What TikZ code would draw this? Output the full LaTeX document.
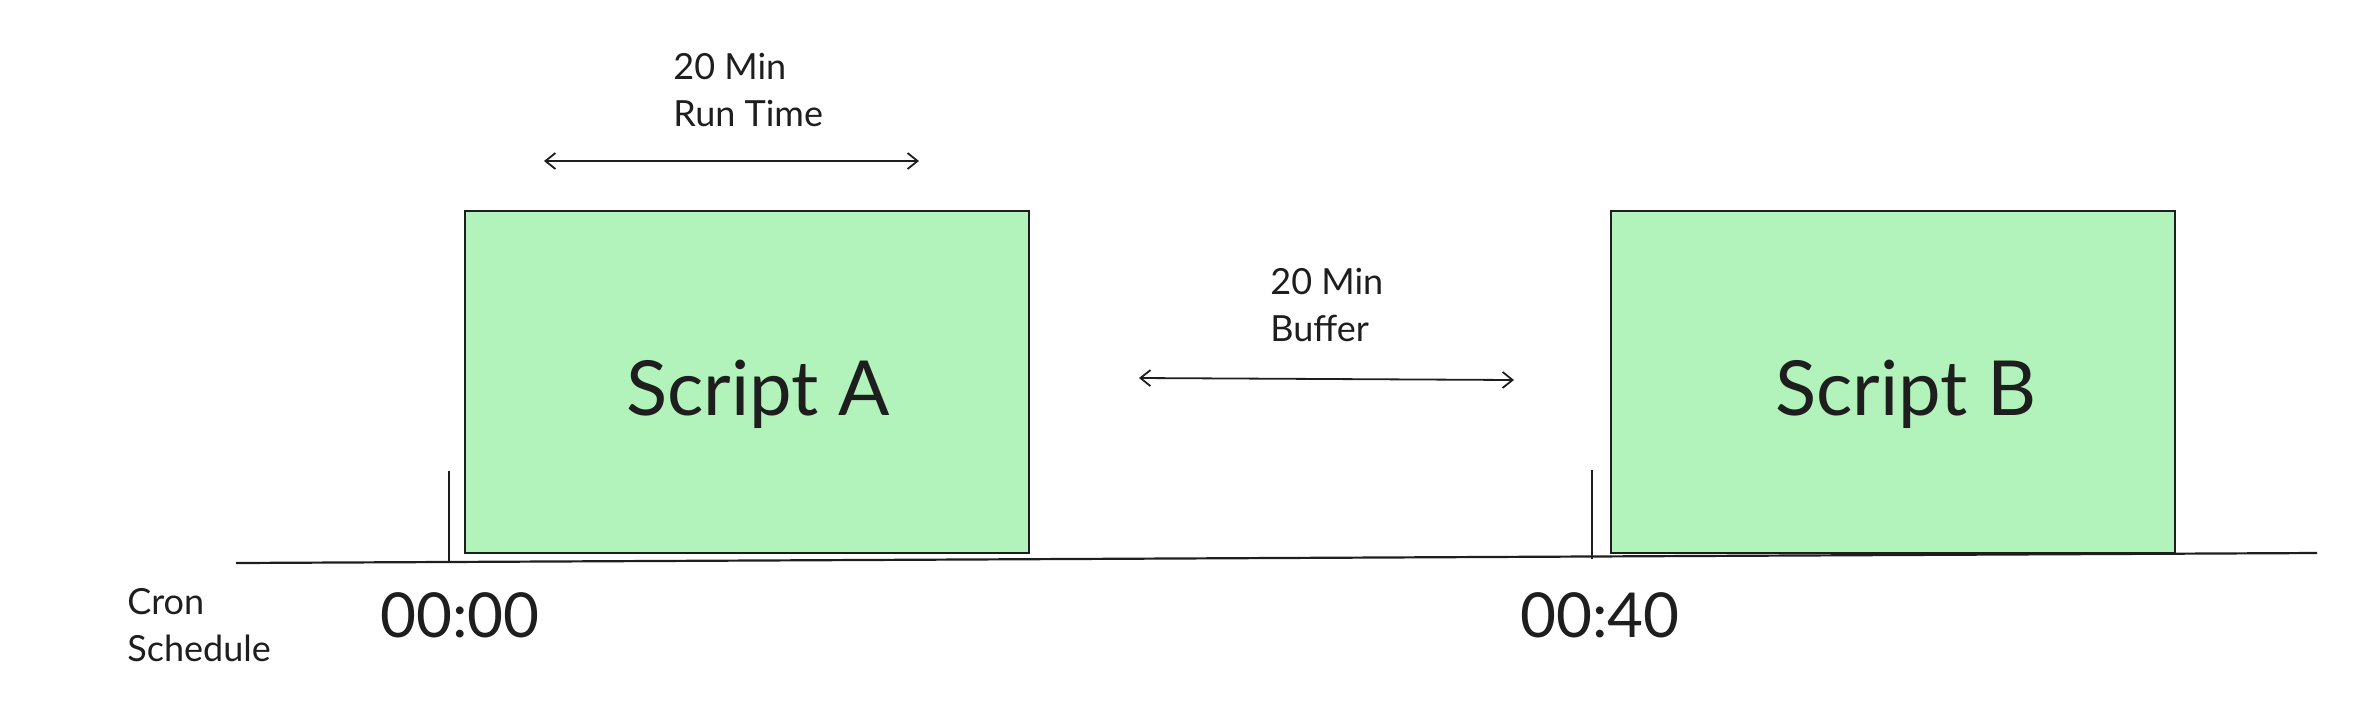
\documentclass[tikz,border=0pt]{standalone}
\usepackage{fontspec}
\setmainfont{Lato}
\usetikzlibrary{arrows.meta}
\definecolor{boxgreen}{RGB}{178,242,187}
\definecolor{ink}{RGB}{30,30,30}
\tikzset{
  scriptbox/.style={draw=ink, line width=1.2pt, fill=boxgreen, inner sep=0pt,
    minimum width=282pt, minimum height=171pt},
  boxtext/.style={text=ink, inner sep=0pt, font=\fontsize{38}{44}\selectfont},
  note/.style={text=ink, align=left, anchor=west, inner sep=0pt, font=\fontsize{18}{23.5}\selectfont},
  stamp/.style={text=ink, inner sep=0pt, font=\fontsize{31}{36}\selectfont},
  span/.style={draw=ink, line width=0.9pt, {Straight Barb[length=5pt,width=8pt]}-{Straight Barb[length=5pt,width=8pt]}},
  axis/.style={draw=ink, line width=1.1pt},
  tick/.style={draw=ink, line width=0.8pt}
}
\begin{document}
\begin{tikzpicture}[x=0.5pt,y=0.5pt,yscale=-1]
  \useasboundingbox (0,0) rectangle (2362,714);
  % time axis
  \coordinate (axL) at (236,563);
  \coordinate (axR) at (2317,553);
  \draw[axis] (axL) -- (axR);
  % cron ticks
  \coordinate (tkAtop) at (449,471);
  \coordinate (tkAbot) at (449,562);
  \coordinate (tkBtop) at (1592,470);
  \coordinate (tkBbot) at (1592,559);
  \draw[tick] (tkAtop) -- (tkAbot);
  \draw[tick] (tkBtop) -- (tkBbot);
  % scripts
  \node[scriptbox] (boxA) at (747,382) {};
  \node[scriptbox] (boxB) at (1893,382) {};
  \node[boxtext] (lblA) at (758,394) {Script A};
  \node[boxtext] (lblB) at (1906,394) {Script B};
  % run time
  \coordinate (rtL) at (544,161);
  \coordinate (rtR) at (919,161);
  \draw[span] (rtL) -- (rtR);
  \node[note] (runtime) at (673,90) {20 Min\\Run Time};
  % buffer
  \coordinate (bfL) at (1139,378);
  \coordinate (bfR) at (1514,380);
  \draw[span] (bfL) -- (bfR);
  \node[note] (buffer) at (1270,305) {20 Min\\Buffer};
  % schedule labels
  \node[note] (cron) at (127,625) {Cron\\Schedule};
  \node[stamp] (tA) at (460,615) {00:00};
  \node[stamp] (tB) at (1600,615) {00:40};
\end{tikzpicture}
\end{document}
